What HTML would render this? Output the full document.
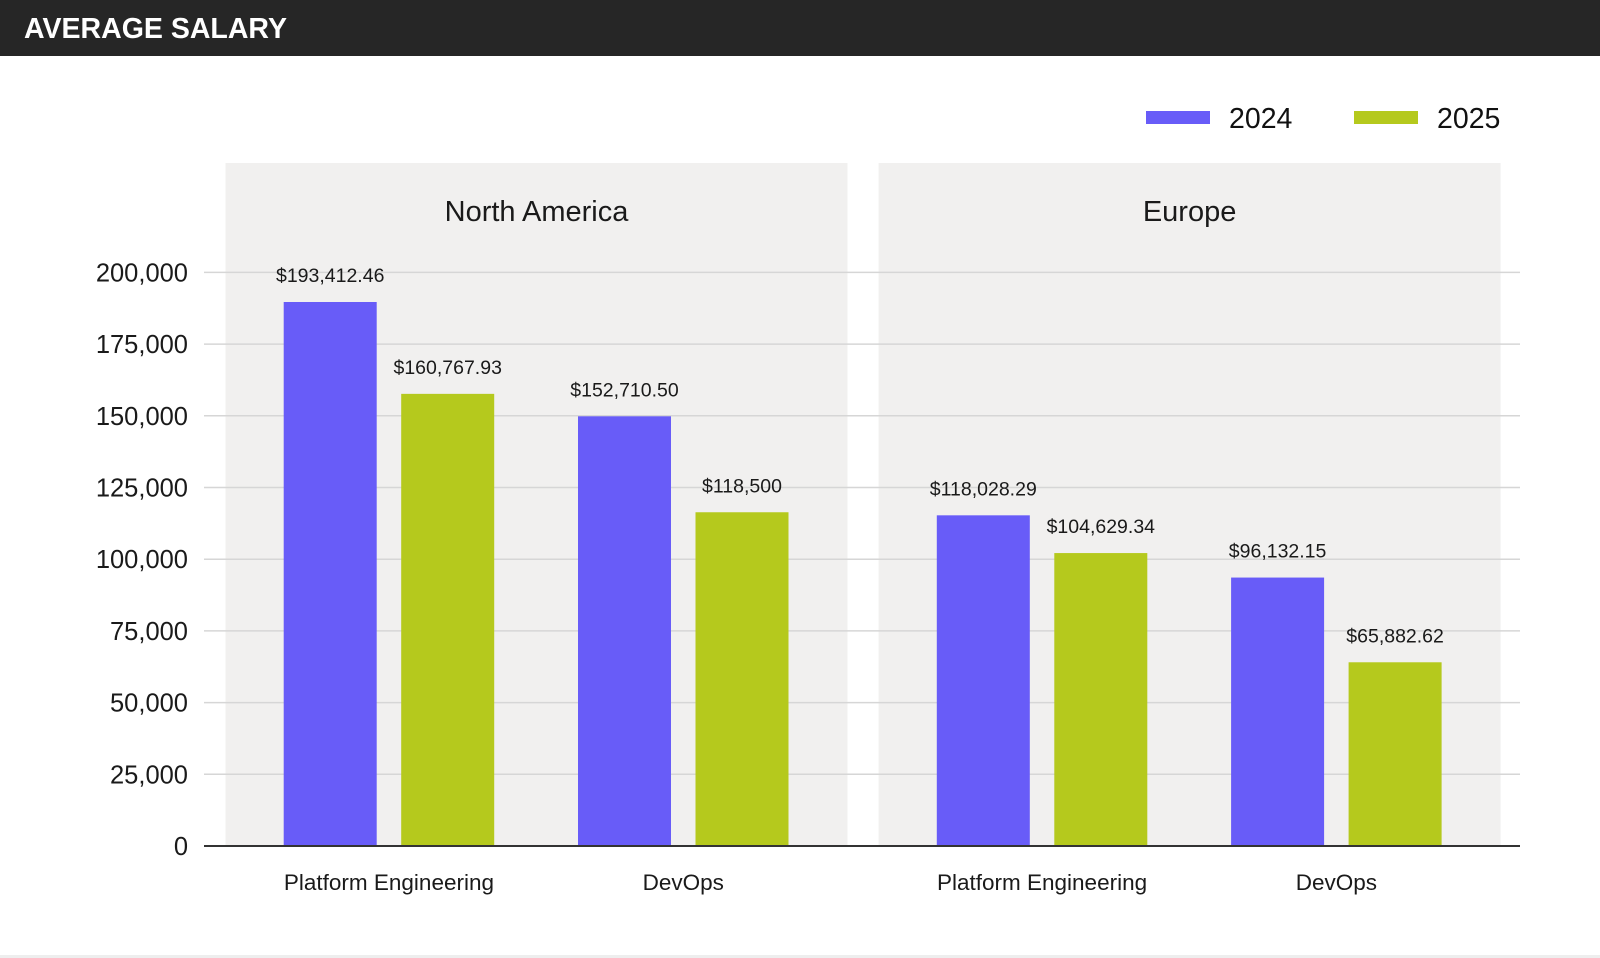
<!DOCTYPE html>
<html><head><meta charset="utf-8"><style>
html,body{margin:0;padding:0;background:#fff;width:1600px;height:958px;overflow:hidden;font-family:"Liberation Sans",sans-serif}
</style></head><body>
<svg id="chart" width="1600" height="958" viewBox="0 0 1600 958" xmlns="http://www.w3.org/2000/svg" font-family="Liberation Sans, sans-serif">
<rect x="0" y="0" width="1600" height="56" fill="#262626"/>
<text x="24" y="38" fill="#fff" font-size="29" font-weight="bold" textLength="263" lengthAdjust="spacingAndGlyphs">AVERAGE  SALARY</text>
<rect x="0" y="955" width="1600" height="3" fill="#eeeeee"/>
<g>
<rect x="1146" y="111" width="64" height="13" fill="#685cf8"/>
<text x="1229" y="128" font-size="28.5" fill="#111">2024</text>
<rect x="1354" y="111" width="64" height="13" fill="#b5c91d"/>
<text x="1437" y="128" font-size="28.5" fill="#111">2025</text>
</g>
<g id="panels"></g><g id="grid"></g><g id="bars"></g><g id="labels"></g>
</svg>
<script>
const regions = ["North America", "Europe"];
const categories = ["Platform Engineering", "DevOps"];
const yTicks = [0, 25000, 50000, 75000, 100000, 125000, 150000, 175000, 200000];
const yTickLabels = ["0", "25,000", "50,000", "75,000", "100,000", "125,000", "150,000", "175,000", "200,000"];
// bar heights (NA PE, NA DevOps, EU PE, EU DevOps)
const values2024 = [189680, 149820, 115300, 93600];
const values2025 = [157650, 116370, 102140, 64060];
const printed2024 = ["$193,412.46", "$152,710.50", "$118,028.29", "$96,132.15"];
const printed2025 = ["$160,767.93", "$118,500", "$104,629.34", "$65,882.62"];

const NS = "http://www.w3.org/2000/svg";
const y0 = 846, yTop = 272.4, yMax = 200000;
function y(v){ return y0 - v / yMax * (y0 - yTop); }
const panelX = [225.5, 878.6], panelW = 622;
const barW = 93;
const groupOff = [58.2, 352.5];
const pairGap = 117.5;
function mk(tag, attrs, parent){ const e = document.createElementNS(NS, tag); for (const k in attrs) e.setAttribute(k, attrs[k]); parent.appendChild(e); return e; }
const panels = document.getElementById('panels'), grid = document.getElementById('grid'), bars = document.getElementById('bars'), labels = document.getElementById('labels');

regions.forEach((r, i) => {
  const p = mk('rect', {x: panelX[i], y: 163, width: panelW, height: y0 - 163, fill: '#f1f0ef'}, panels);
  
  
  const t = mk('text', {x: panelX[i] + panelW / 2, y: 221, 'text-anchor': 'middle', 'font-size': 29, fill: '#1a1a1a'}, panels);
  t.textContent = r;
  
  
});

yTicks.forEach((v, i) => {
  if (v !== 0) {
    const l = mk('line', {x1: 204, x2: 1520, y1: y(v), y2: y(v), stroke: '#d6d6d6', 'stroke-width': 1.5}, grid);
    
    
  }
  const t = mk('text', {x: 188, y: y(v) + 9, 'text-anchor': 'end', 'font-size': 25.5, fill: '#1a1a1a'}, grid);
  t.textContent = yTickLabels[i];
  
  
});

const series = [[values2024, printed2024, '#685cf8', '2024'], [values2025, printed2025, '#b5c91d', '2025']];
regions.forEach((r, ri) => {
  categories.forEach((c, ci) => {
    const idx = ri * 2 + ci;
    const gx = panelX[ri] + groupOff[ci];
    series.forEach((s, si) => {
      const v = s[0][idx];
      const bx = gx + si * pairGap;
      const b = mk('rect', {x: bx, y: y(v), width: barW, height: y0 - y(v), fill: s[2]}, bars);
      
      
      const t = mk('text', {x: bx + barW / 2, y: y(v) - 20, 'text-anchor': 'middle', 'font-size': 19.5, fill: '#1a1a1a'}, labels);
      t.textContent = s[1][idx];
      
      
    });
    const ct = mk('text', {x: gx + (pairGap + barW) / 2, y: 890, 'text-anchor': 'middle', 'font-size': 22.5, fill: '#1a1a1a'}, labels);
    ct.textContent = c;
    
    
  });
});
const ax = mk('line', {x1: 204, x2: 1520, y1: y0, y2: y0, stroke: '#333', 'stroke-width': 2}, grid.parentNode);


</script>
</body></html>
